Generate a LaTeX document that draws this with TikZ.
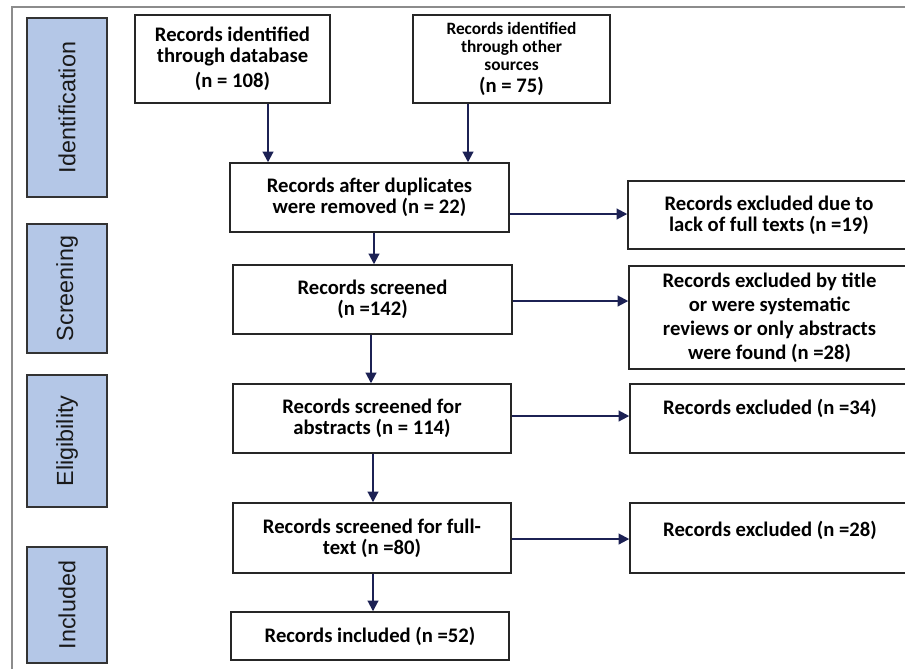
\documentclass[tikz,border=0pt]{standalone}
\usepackage{fontspec}
\setmainfont{Carlito}
\newfontfamily\sidefont{Liberation Sans}
\usetikzlibrary{arrows.meta,shadows}
\definecolor{navy}{RGB}{28,33,84}
\definecolor{sideblue}{RGB}{180,199,231}
\begin{document}
\begin{tikzpicture}[x=0.75pt,y=-0.75pt,
  box/.style={draw=black!85, line width=1.1pt, fill=white, font=\bfseries\fontsize{15.5}{15.75}\selectfont, align=center, inner sep=2pt},
  side/.style={draw=black!80, line width=1pt, fill=sideblue, drop shadow={opacity=0.3, shadow xshift=0.8pt, shadow yshift=-0.8pt}, minimum height=60pt, rotate=90, font=\sidefont\fontsize{17.5}{20}\selectfont, text=black!90},
  arr/.style={draw=navy, line width=1.5pt, -{Triangle[length=8pt,width=8pt]}}]

\useasboundingbox (0,0) rectangle (905,669);
\draw[black!45, line width=1.2pt] (905,7) -- (12,7) -- (12,669);

% side labels
\node[side, minimum width=134.25pt] (sid) at (67,107.5) {Identification};
\node[side, minimum width=96.75pt] (ssc) at (67,288.5) {Screening};
\node[side, minimum width=99pt] (sel) at (67,441) {Eligibility};
\node[side, minimum width=87pt] (sin) at (67,605) {Included};

% main column
\node[box, minimum width=146.25pt, minimum height=66pt] (db) at (232.5,59)
  {Records identified\\through database\\[3pt](n = 108)};
\node[box, font=\bfseries\fontsize{13}{13.5}\selectfont, minimum width=147.75pt, minimum height=66pt] (oth) at (511.5,59)
  {Records identified\\through other\\sources\\[3pt]{\fontsize{15.5}{15.5}\selectfont (n = 75)}};
\node[box, minimum width=209.25pt, minimum height=51.75pt] (dup) at (369.5,197.5)
  {Records after duplicates\\were removed (n = 22)};
\node[box, minimum width=209.25pt, minimum height=51.75pt] (scr) at (372.5,299.5)
  {Records screened\\(n =142)};
\node[box, minimum width=208.5pt, minimum height=51.75pt] (abs) at (372,418.5)
  {Records screened for\\abstracts (n = 114)};
\node[box, minimum width=208.5pt, minimum height=52.5pt] (full) at (372,538)
  {Records screened for full-\\text (n =80)};
\node[box, minimum width=208.5pt, minimum height=36pt] (inc) at (370,636)
  {Records included (n =52)};

% exclusion column
\node[box, minimum width=211.5pt, minimum height=51pt] (ex1) at (769,215)
  {Records excluded due to\\lack of full texts (n =19)};
\node[box, font=\bfseries\fontsize{15.5}{18}\selectfont, minimum width=210.75pt, minimum height=77.25pt] (ex2) at (769.5,317.5)
  {Records excluded by title\\or were systematic\\reviews or only abstracts\\were found (n =28)};
\node[box, align=none, text depth=18pt, minimum width=210pt, minimum height=51.75pt] (ex3) at (770,418.5)
  {Records excluded (n =34)};
\node[box, align=none, text depth=13.5pt, minimum width=210pt, minimum height=52.5pt] (ex4) at (770,538)
  {Records excluded (n =28)};

% connector guides
\coordinate (c1) at (268,0);
\coordinate (c2) at (468,0);
\coordinate (c3) at (374,0);
\coordinate (c4) at (371,0);
\coordinate (c5) at (373,0);
\coordinate (r1) at (0,214);
\coordinate (r2) at (0,301);
\coordinate (r3) at (0,416);
\coordinate (r4) at (0,539);

\draw[arr] (db.south -| c1) -- (dup.north -| c1);
\draw[arr] (oth.south -| c2) -- (dup.north -| c2);
\draw[arr] (dup.south -| c3) -- (scr.north -| c3);
\draw[arr] (scr.south -| c4) -- (abs.north -| c4);
\draw[arr] (abs.south -| c5) -- (full.north -| c5);
\draw[arr] (full.south -| c5) -- (inc.north -| c5);

\draw[arr] (dup.east |- r1) -- (ex1.west |- r1);
\draw[arr] (scr.east |- r2) -- (ex2.west |- r2);
\draw[arr] (abs.east |- r3) -- (ex3.west |- r3);
\draw[arr] (full.east |- r4) -- (ex4.west |- r4);
\end{tikzpicture}
\end{document}
